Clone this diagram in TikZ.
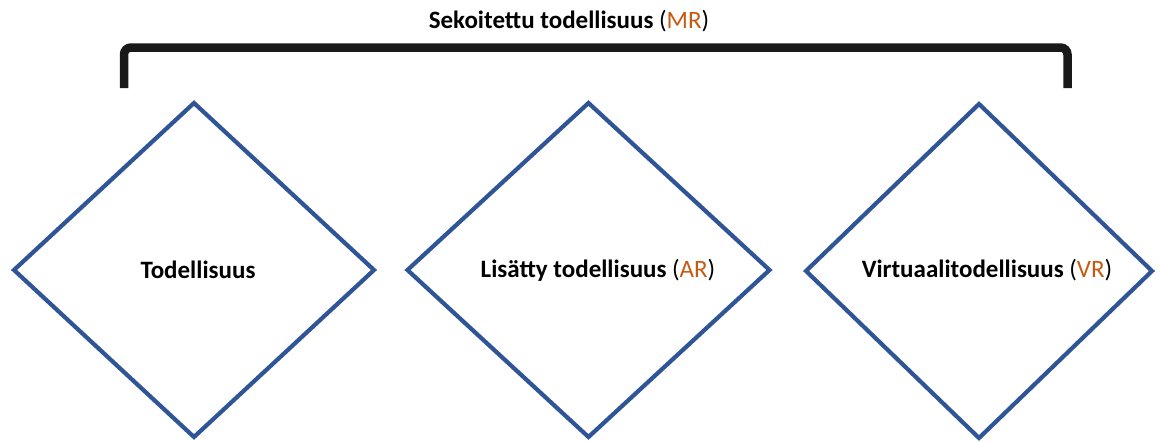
\documentclass[tikz,border=0pt]{standalone}
\usepackage{fontspec}
\setmainfont{Carlito}
\definecolor{dblue}{HTML}{2F5597}
\definecolor{orng}{HTML}{C55A11}
\begin{document}
\begin{tikzpicture}[x=1pt,y=1pt,
  dia/.style={draw=dblue,line width=4.2pt,line join=miter},
  lbl/.style={font=\fontsize{25}{29}\selectfont\bfseries,inner sep=0pt},
  brk/.style={draw=black!90,line width=8.5pt,rounded corners=7pt}]
\useasboundingbox (0,0) rectangle (1160,-442);
% brackets
\draw[brk] (124,-88) -- (124,-47.5) -- (1067.5,-47.5) -- (1067.5,-88);
\node[lbl] (mr) at (569,-21) {Sekoitettu todellisuus \mdseries(\textcolor{orng}{MR})};
% diamonds
\draw[dia] (194,-103) -- (374,-270) -- (194,-437) -- (14,-270) -- cycle;
\draw[dia] (588.5,-103) -- (769.5,-270) -- (588.5,-437) -- (407.5,-270) -- cycle;
\draw[dia] (979,-104) -- (1152,-271) -- (979,-438) -- (806,-271) -- cycle;
\node[lbl] (real) at (198,-270) {Todellisuus};
\node[lbl] (ar) at (598,-270) {Lisätty todellisuus \mdseries(\textcolor{orng}{AR})};
\node[lbl] (vr) at (987,-270) {Virtuaalitodellisuus \mdseries(\textcolor{orng}{VR})};
\end{tikzpicture}
\end{document}
